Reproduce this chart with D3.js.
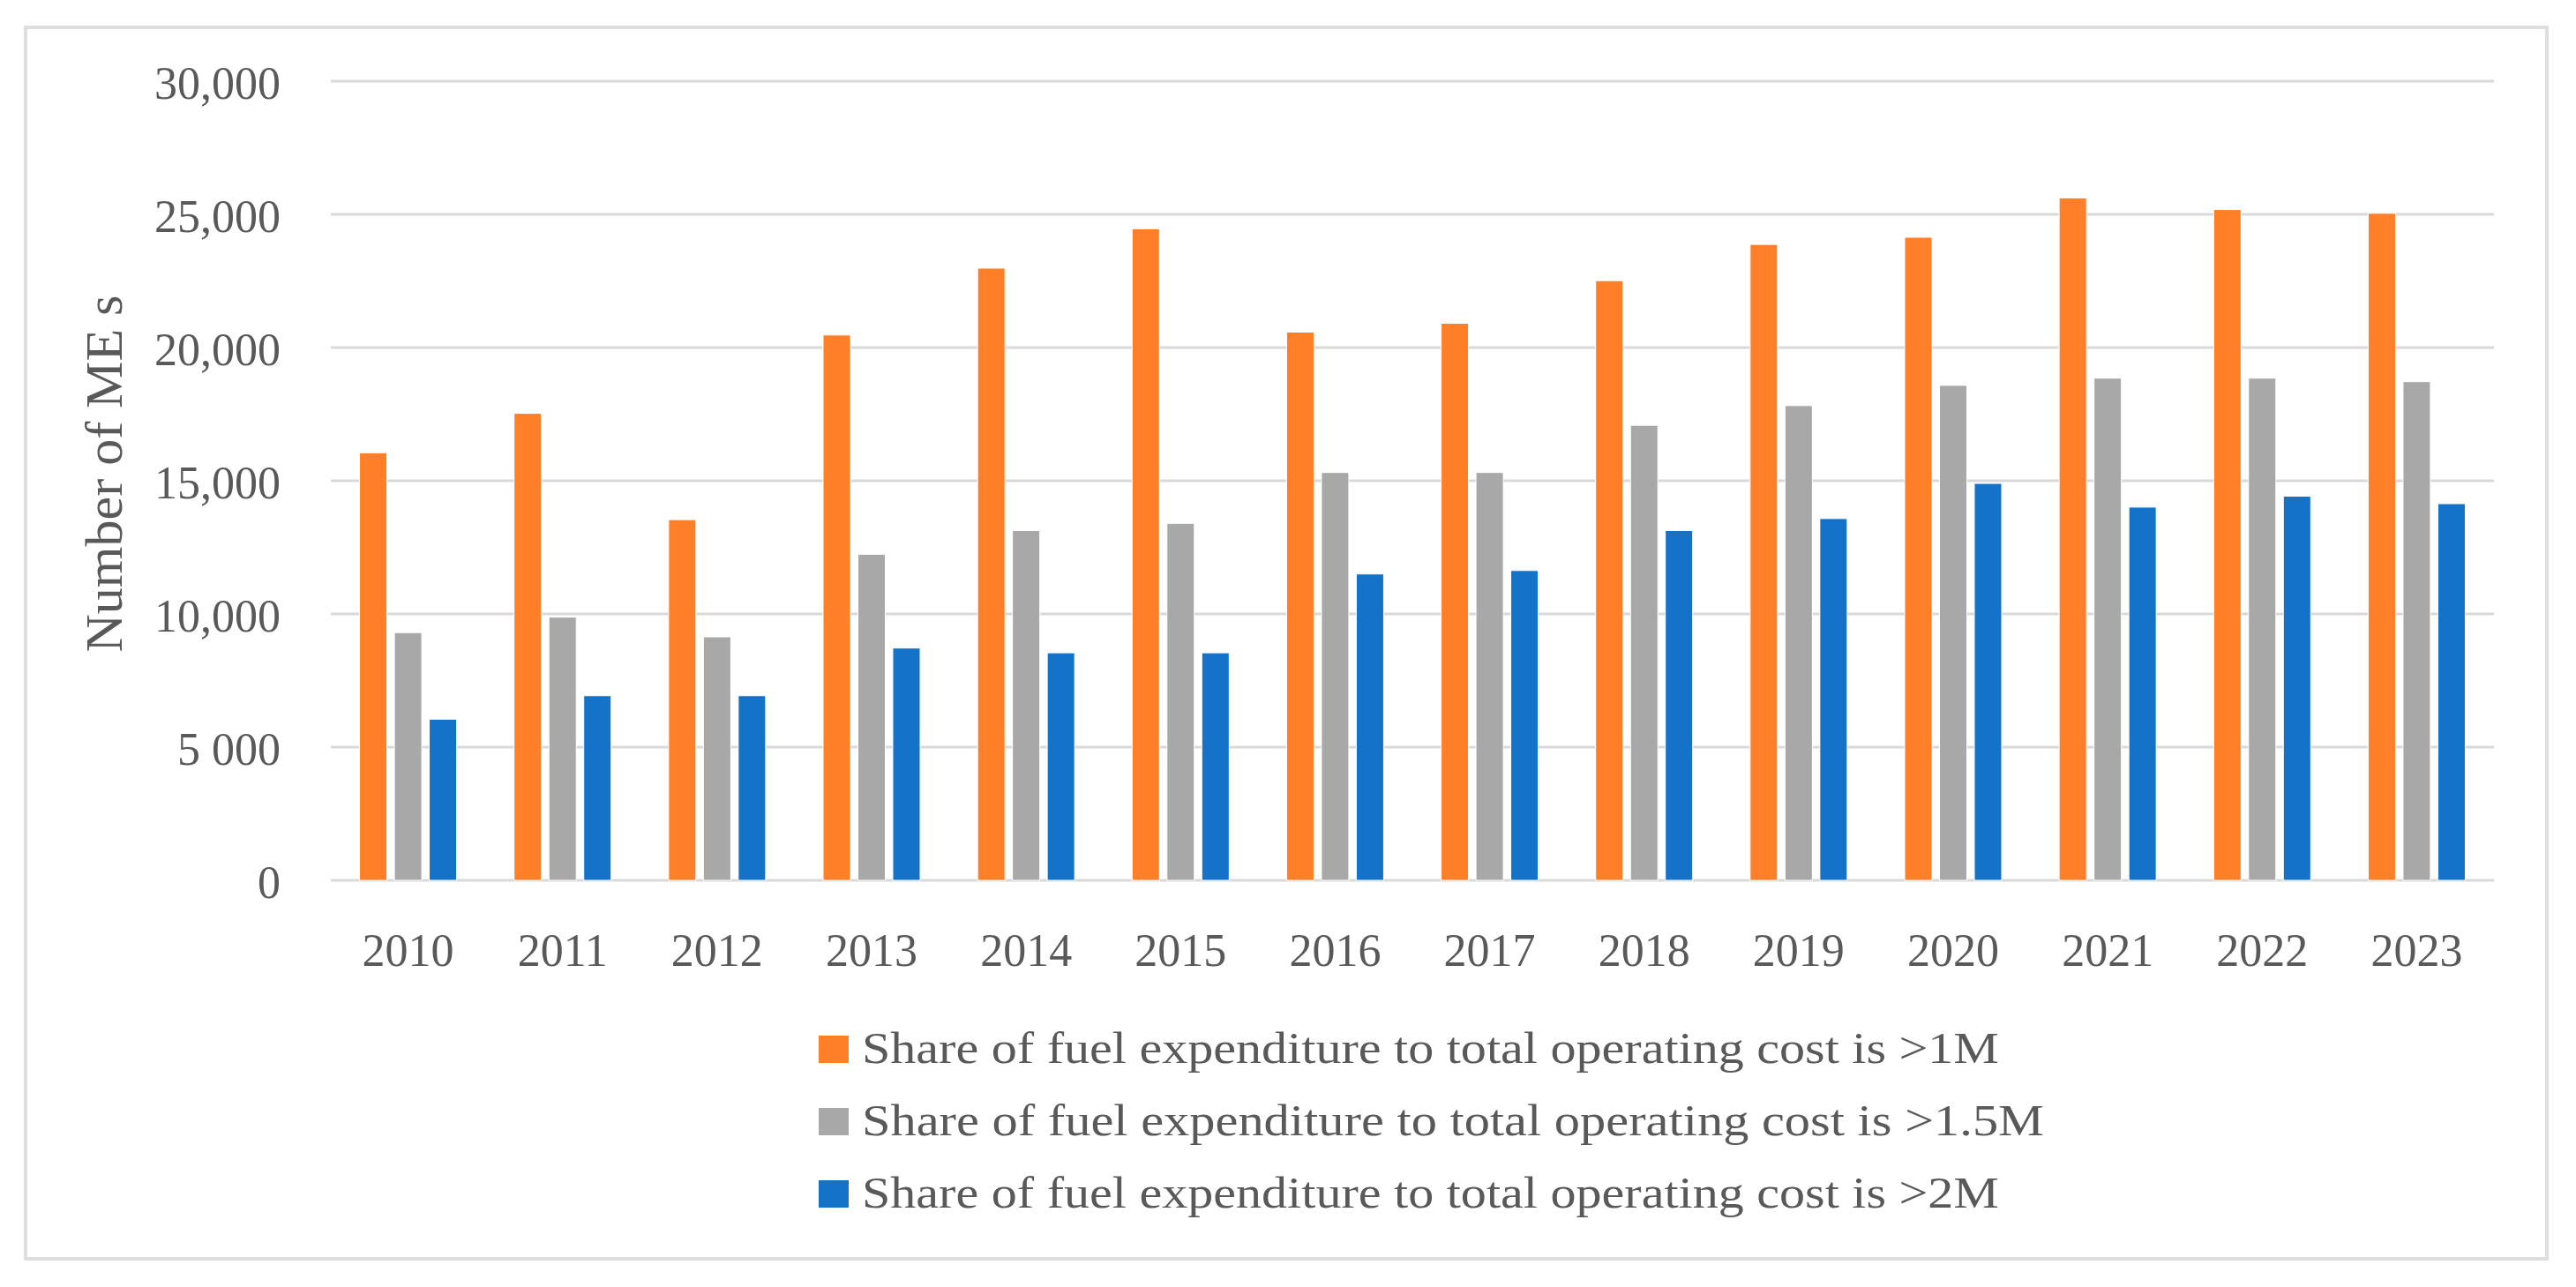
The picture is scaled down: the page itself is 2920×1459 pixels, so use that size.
<!DOCTYPE html>
<html>
<head>
<meta charset="utf-8">
<script src="https://cdn.jsdelivr.net/npm/d3@7"></script>
<style>
  html, body { margin: 0; padding: 0; background: #fff; }
  svg { display: block; }
  text { font-family: "Liberation Serif", "Times New Roman", serif; fill: #595959; }
</style>
</head>
<body>
<div id="chart"></div>
<script>
var years = ["2010", "2011", "2012", "2013", "2014", "2015", "2016",
             "2017", "2018", "2019", "2020", "2021", "2022", "2023"];
var over1M   = [16050, 17530, 13540, 20470, 22980, 24460, 20580,
                20910, 22510, 23870, 24140, 25620, 25180, 25040];
var over15M  = [9300, 9880, 9140, 12240, 13130, 13400, 15310,
                15310, 17080, 17820, 18580, 18850, 18850, 18720];
var over2M   = [6050, 6930, 6930, 8720, 8540, 8540, 11500,
                11630, 13130, 13580, 14900, 14010, 14420, 14140];
var seriesNames = [
  "Share of fuel expenditure to total operating cost is >1M",
  "Share of fuel expenditure to total operating cost is >1.5M",
  "Share of fuel expenditure to total operating cost is >2M"
];
var seriesColors = ["#fe7f27", "#a8a8a8", "#1472c8"];
var tickValues = [0, 5000, 10000, 15000, 20000, 25000, 30000];
var tickLabels = ["0", "5 000", "10,000", "15,000", "20,000", "25,000", "30,000"];

var W = 2920, H = 1459;
var svg = d3.select("#chart").append("svg")
  .attr("width", W).attr("height", H);

// outer frame
svg.append("rect")
  .attr("x", 29).attr("y", 31)
  .attr("width", 2858).attr("height", 1396)
  .attr("fill", "none")
  .attr("stroke", "#dedede")
  .attr("stroke-width", 4);

var x = d3.scaleBand().domain(years).range([375, 2827]).paddingInner(0);
var y = d3.scaleLinear().domain([0, 30000]).range([998, 92]);
var xs = d3.scaleBand().domain([0, 1, 2]).range([-55, 55]).paddingInner(0.215);

// gridlines
svg.append("g").selectAll("line")
  .data(tickValues)
  .join("line")
  .attr("x1", 375).attr("x2", 2827)
  .attr("y1", d => y(d)).attr("y2", d => y(d))
  .attr("stroke", "#d9d9d9")
  .attr("stroke-width", 3);

// y tick labels
svg.append("g").selectAll("text")
  .data(tickValues)
  .join("text")
  .attr("x", 318)
  .attr("y", d => y(d))
  .attr("dy", "0.38em")
  .attr("text-anchor", "end")
  .attr("font-size", 52)
  .text((d, i) => tickLabels[i]);

// bars
var series = [over1M, over15M, over2M];
series.forEach(function(vals, si) {
  svg.append("g").selectAll("rect")
    .data(vals)
    .join("rect")
    .attr("x", (d, i) => x(years[i]) + x.bandwidth() / 2 + xs(si))
    .attr("y", d => y(d))
    .attr("width", xs.bandwidth())
    .attr("height", d => y(0) - y(d))
    .attr("fill", seriesColors[si])
    .attr("stroke", "#fff")
    .attr("stroke-width", 1);
});

// x labels
svg.append("g").selectAll("text")
  .data(years)
  .join("text")
  .attr("x", d => x(d) + x.bandwidth() / 2)
  .attr("y", 1095)
  .attr("text-anchor", "middle")
  .attr("font-size", 52)
  .text(d => d);

// y axis title
svg.append("text")
  .attr("transform", "translate(138,537) rotate(-90)")
  .attr("text-anchor", "middle")
  .attr("font-size", 60)
  .text("Number of ME s");

// legend
var legendWidths = [1289, 1340, 1289];
var legend = svg.append("g").selectAll("g")
  .data(seriesNames)
  .join("g")
  .attr("transform", (d, i) => "translate(928," + (1174 + i * 82) + ")");
legend.append("rect")
  .attr("width", 34).attr("height", 31)
  .attr("fill", (d, i) => seriesColors[i]);
legend.append("text")
  .attr("x", 49)
  .attr("y", 31)
  .attr("font-size", 51)
  .attr("textLength", (d, i) => legendWidths[i])
  .attr("lengthAdjust", "spacingAndGlyphs")
  .text(d => d);
</script>
</body>
</html>
